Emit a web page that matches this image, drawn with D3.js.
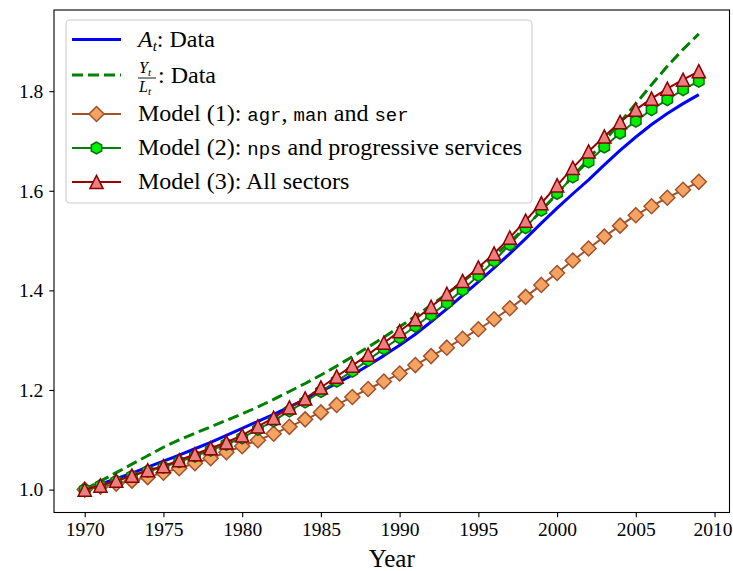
<!DOCTYPE html>
<html>
<head>
<meta charset="utf-8">
<script src="https://cdn.jsdelivr.net/npm/d3@7"></script>
<style>
  body { margin: 0; background: #fff; }
</style>
</head>
<body>
<div id="chart"></div>
<script>
// data
var years = [1970, 1971, 1972, 1973, 1974, 1975, 1976, 1977, 1978, 1979,
             1980, 1981, 1982, 1983, 1984, 1985, 1986, 1987, 1988, 1989,
             1990, 1991, 1992, 1993, 1994, 1995, 1996, 1997, 1998, 1999,
             2000, 2001, 2002, 2003, 2004, 2005, 2006, 2007, 2008, 2009];

var tfpData = [1.000, 1.011, 1.022, 1.033, 1.045, 1.057, 1.069, 1.082, 1.095, 1.109,
               1.123, 1.137, 1.151, 1.166, 1.181, 1.197, 1.213, 1.230, 1.249, 1.269,
               1.290, 1.312, 1.337, 1.363, 1.390, 1.417, 1.445, 1.474, 1.504, 1.535,
               1.565, 1.594, 1.622, 1.652, 1.681, 1.708, 1.733, 1.755, 1.775, 1.793];

var laborProd = [1.000, 1.017, 1.034, 1.051, 1.068, 1.085, 1.100, 1.113, 1.126, 1.139,
                 1.152, 1.166, 1.181, 1.197, 1.213, 1.230, 1.248, 1.267, 1.286, 1.306,
                 1.327, 1.348, 1.370, 1.393, 1.417, 1.443, 1.469, 1.497, 1.527, 1.560,
                 1.594, 1.629, 1.664, 1.700, 1.737, 1.775, 1.813, 1.850, 1.884, 1.915];

var model1 = [1.000, 1.006, 1.012, 1.018, 1.025, 1.034, 1.043, 1.053, 1.063, 1.075,
              1.087, 1.099, 1.112, 1.126, 1.141, 1.155, 1.170, 1.186, 1.202, 1.217,
              1.233, 1.250, 1.268, 1.285, 1.303, 1.322, 1.342, 1.364, 1.387, 1.411,
              1.435, 1.460, 1.484, 1.508, 1.530, 1.551, 1.569, 1.586, 1.602, 1.618];

var model2 = [1.000, 1.008, 1.017, 1.027, 1.037, 1.045, 1.056, 1.067, 1.079, 1.091,
              1.104, 1.121, 1.138, 1.158, 1.176, 1.197, 1.218, 1.238, 1.260, 1.283,
              1.305, 1.328, 1.351, 1.375, 1.401, 1.430, 1.459, 1.492, 1.526, 1.561,
              1.595, 1.628, 1.658, 1.688, 1.716, 1.740, 1.763, 1.783, 1.803, 1.820];

var model3 = [1.000, 1.008, 1.018, 1.028, 1.039, 1.047, 1.059, 1.071, 1.083, 1.095,
              1.109, 1.127, 1.144, 1.165, 1.183, 1.205, 1.227, 1.249, 1.271, 1.295,
              1.318, 1.342, 1.367, 1.393, 1.419, 1.446, 1.474, 1.506, 1.540, 1.575,
              1.611, 1.646, 1.679, 1.709, 1.738, 1.763, 1.785, 1.805, 1.823, 1.840];

var xTicks = [1970, 1975, 1980, 1985, 1990, 1995, 2000, 2005, 2010];
var yTicks = [1.0, 1.2, 1.4, 1.6, 1.8];

var SERIF = "Liberation Serif";
var MONO = "Liberation Mono";

var W = 733, H = 571;
var margin = { top: 10, right: 3.5, bottom: 58.5, left: 54 };

var svg = d3.select("#chart").append("svg")
  .attr("width", W).attr("height", H)
  .attr("font-family", SERIF);

var x = d3.scaleLinear().domain([1968.05, 2010.95]).range([margin.left, W - margin.right]);
var y = d3.scaleLinear().domain([0.954, 1.963]).range([H - margin.bottom, margin.top]);

// marker shapes (paths around 0,0)
function diamond(r) {
  return "M0," + (-r) + "L" + r + ",0L0," + r + "L" + (-r) + ",0Z";
}
function hexagon(r) {
  var p = [];
  for (var i = 0; i < 6; i++) {
    var a = Math.PI / 2 + i * Math.PI / 3;
    p.push([r * Math.cos(a), -r * Math.sin(a)]);
  }
  return "M" + p.map(function(d) { return d[0].toFixed(2) + "," + d[1].toFixed(2); }).join("L") + "Z";
}
function triangle(r) {
  return "M0," + (-r) + "L" + r + "," + r + "L" + (-r) + "," + r + "Z";
}

var series = [
  { values: tfpData, color: "#0000ff", width: 3, dash: null, marker: null },
  { values: laborProd, color: "#008000", width: 3, dash: "11,5", marker: null },
  { values: model1, color: "#a0522d", width: 2, dash: null, marker: diamond(7.5), fill: "#f4a460", stroke: "#a0522d" },
  { values: model2, color: "#0a7d0a", width: 2, dash: null, marker: hexagon(6), fill: "#00ee00", stroke: "#0a6e0a" },
  { values: model3, color: "#990000", width: 2, dash: null, marker: triangle(6.6), fill: "#ec7f7f", stroke: "#8b0000" }
];

var line = d3.line()
  .x(function(d, i) { return x(years[i]); })
  .y(function(d) { return y(d); });

var plot = svg.append("g");
plot.append("clipPath").attr("id", "clip")
  .append("rect")
  .attr("x", margin.left).attr("y", margin.top)
  .attr("width", W - margin.left - margin.right)
  .attr("height", H - margin.top - margin.bottom);

series.forEach(function(s) {
  var g = plot.append("g").attr("clip-path", "url(#clip)");
  g.append("path")
    .attr("d", line(s.values))
    .attr("fill", "none")
    .attr("stroke", s.color)
    .attr("stroke-width", s.width)
    .attr("stroke-dasharray", s.dash)
    .attr("stroke-linejoin", "round");
  if (s.marker) {
    g.selectAll(null).data(s.values).enter()
      .append("path")
      .attr("d", s.marker)
      .attr("transform", function(d, i) { return "translate(" + x(years[i]) + "," + y(d) + ")"; })
      .attr("fill", s.fill)
      .attr("stroke", s.stroke)
      .attr("stroke-width", 1.5);
  }
});

// axes
var xAxis = svg.append("g")
  .attr("transform", "translate(0," + (H - margin.bottom) + ")")
  .call(d3.axisBottom(x).tickValues(xTicks).tickSize(4.7).tickPadding(5).tickFormat(d3.format("d")));
var yAxis = svg.append("g")
  .attr("transform", "translate(" + margin.left + ",0)")
  .call(d3.axisLeft(y).tickValues(yTicks).tickSize(4.7).tickPadding(6).tickFormat(d3.format(".1f")));

[xAxis, yAxis].forEach(function(a) {
  a.attr("font-family", SERIF).attr("font-size", 19.5);
  a.select(".domain").remove();
  a.selectAll(".tick line").attr("stroke", "#000").attr("stroke-width", 1.1);
});
// keep the last year label inside the window
xAxis.selectAll(".tick text").filter(function(d) { return d === 2010; }).attr("dx", -2);

svg.append("rect")
  .attr("x", margin.left).attr("y", margin.top)
  .attr("width", W - margin.left - margin.right)
  .attr("height", H - margin.top - margin.bottom)
  .attr("fill", "none").attr("stroke", "#000").attr("stroke-width", 1.1);

svg.append("text")
  .attr("x", (margin.left + W - margin.right) / 2)
  .attr("y", 567)
  .attr("text-anchor", "middle")
  .attr("font-size", 25)
  .text("Year");

// legend
var legend = svg.append("g").attr("font-family", SERIF);
legend.append("rect")
  .attr("x", 66).attr("y", 20).attr("width", 466).attr("height", 183)
  .attr("rx", 4)
  .attr("fill", "#fff").attr("fill-opacity", 0.8)
  .attr("stroke", "#cccccc").attr("stroke-width", 1.1);

var rowY = [39.5, 75, 114, 148, 182];
series.forEach(function(s, i) {
  var g = legend.append("g").attr("transform", "translate(0," + rowY[i] + ")");
  g.append("line")
    .attr("x1", 72).attr("x2", 121)
    .attr("stroke", s.color).attr("stroke-width", s.width)
    .attr("stroke-dasharray", s.dash);
  if (s.marker) {
    g.append("path").attr("d", s.marker)
      .attr("transform", "translate(96.5,0)")
      .attr("fill", s.fill).attr("stroke", s.stroke).attr("stroke-width", 1.5);
  }
});

var fs = 24;
function row(yb) {
  return legend.append("text").attr("x", 138).attr("y", yb)
    .attr("font-family", SERIF).attr("font-size", fs);
}
function mono(t, s) {
  t.append("tspan").attr("font-family", MONO).attr("font-size", 19).text(s);
}

// A_t: Data
var t1 = row(47);
t1.append("tspan").attr("font-style", "italic").text("A");
t1.append("tspan").attr("font-style", "italic").attr("font-size", 15).attr("dy", 4).text("t");
t1.append("tspan").attr("dy", -4).text(": Data");

// Y_t / L_t: Data
var num = legend.append("text").attr("x", 139).attr("y", 73)
  .attr("font-size", 16).attr("font-style", "italic");
num.append("tspan").text("Y");
num.append("tspan").attr("font-size", 11).attr("dy", 2.5).text("t");
legend.append("line").attr("x1", 138).attr("x2", 156).attr("y1", 78).attr("y2", 78)
  .attr("stroke", "#000").attr("stroke-width", 0.9);
var den = legend.append("text").attr("x", 139).attr("y", 92)
  .attr("font-size", 16).attr("font-style", "italic");
den.append("tspan").text("L");
den.append("tspan").attr("font-size", 11).attr("dy", 2.5).text("t");
legend.append("text").attr("x", 158).attr("y", 82.5)
  .attr("font-size", fs)
  .text(": Data");

// Model (1)
var t3 = row(121);
t3.append("tspan").text("Model (1): ");
mono(t3, "agr");
t3.append("tspan").text(", ");
mono(t3, "man");
t3.append("tspan").text(" and ");
mono(t3, "ser");

// Model (2)
var t4 = row(155);
t4.append("tspan").text("Model (2): ");
mono(t4, "nps");
t4.append("tspan").text(" and progressive services");

// Model (3)
row(189).text("Model (3): All sectors");
</script>
</body>
</html>
